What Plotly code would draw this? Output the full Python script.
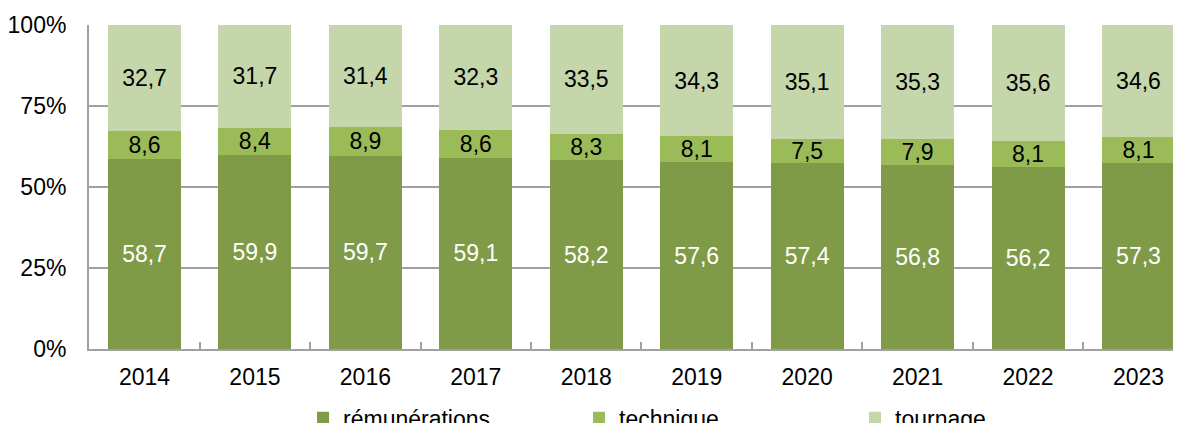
import plotly.graph_objects as go

years = ["2014", "2015", "2016", "2017", "2018", "2019", "2020", "2021", "2022", "2023"]
remunerations = [58.7, 59.9, 59.7, 59.1, 58.2, 57.6, 57.4, 56.8, 56.2, 57.3]
technique = [8.6, 8.4, 8.9, 8.6, 8.3, 8.1, 7.5, 7.9, 8.1, 8.1]
tournage = [32.7, 31.7, 31.4, 32.3, 33.5, 34.3, 35.1, 35.3, 35.6, 34.6]
y_ticks = [0, 25, 50, 75, 100]
y_labels = ["0%", "25%", "50%", "75%", "100%"]

FONT = "Liberation Sans, Arial, sans-serif"
FS = 23
GRID = "#A0A0A0"

series = [
    ("rémunérations", remunerations, "#809B48", "white"),
    ("technique", technique, "#9BBB59", "black"),
    ("tournage", tournage, "#C5D6AB", "black"),
]

fig = go.Figure()
for name, vals, color, tcolor in series:
    fig.add_trace(go.Bar(
        x=years, y=vals, name=name,
        marker=dict(color=color, line=dict(width=0)),
        texttemplate="%{y:.1f}",
        textposition="inside",
        insidetextanchor="middle",
        textangle=0,
        textfont=dict(family=FONT, size=FS, color=tcolor),
    ))

fig.update_layout(
    barmode="stack",
    bargap=0.339,
    width=1173, height=415,
    margin=dict(l=81, r=0, t=17, b=74, autoexpand=False),
    plot_bgcolor="white", paper_bgcolor="white",
    separators=", ",
    font=dict(family=FONT, size=FS, color="black"),
    uniformtext=dict(minsize=FS, mode="show"),
    showlegend=True,
    legend=dict(
        orientation="h", x=0.196, xanchor="left", y=-0.212, yanchor="middle",
        font=dict(family=FONT, size=FS, color="black"),
        entrywidth=231, entrywidthmode="pixels",
        traceorder="normal",
        bgcolor="rgba(0,0,0,0)",
    ),
    xaxis=dict(
        type="category",
        range=[-0.5025, 9.385],
        showline=True, linecolor=GRID, linewidth=2,
        ticks="inside", tickson="boundaries", ticklen=7, tickcolor=GRID, tickwidth=1.5,
        showgrid=False,
        tickfont=dict(family=FONT, size=FS, color="black"),
        ticklabelstandoff=6,
        automargin=False,
    ),
    yaxis=dict(
        range=[0, 100],
        tickvals=y_ticks,
        ticktext=y_labels,
        showline=True, linecolor=GRID, linewidth=2,
        showgrid=True, gridcolor=GRID, gridwidth=1.5,
        ticks="",
        zeroline=False,
        tickfont=dict(family=FONT, size=FS, color="black"),
        ticklabelstandoff=16,
        automargin=False,
    ),
)

fig.write_html("out.html")
